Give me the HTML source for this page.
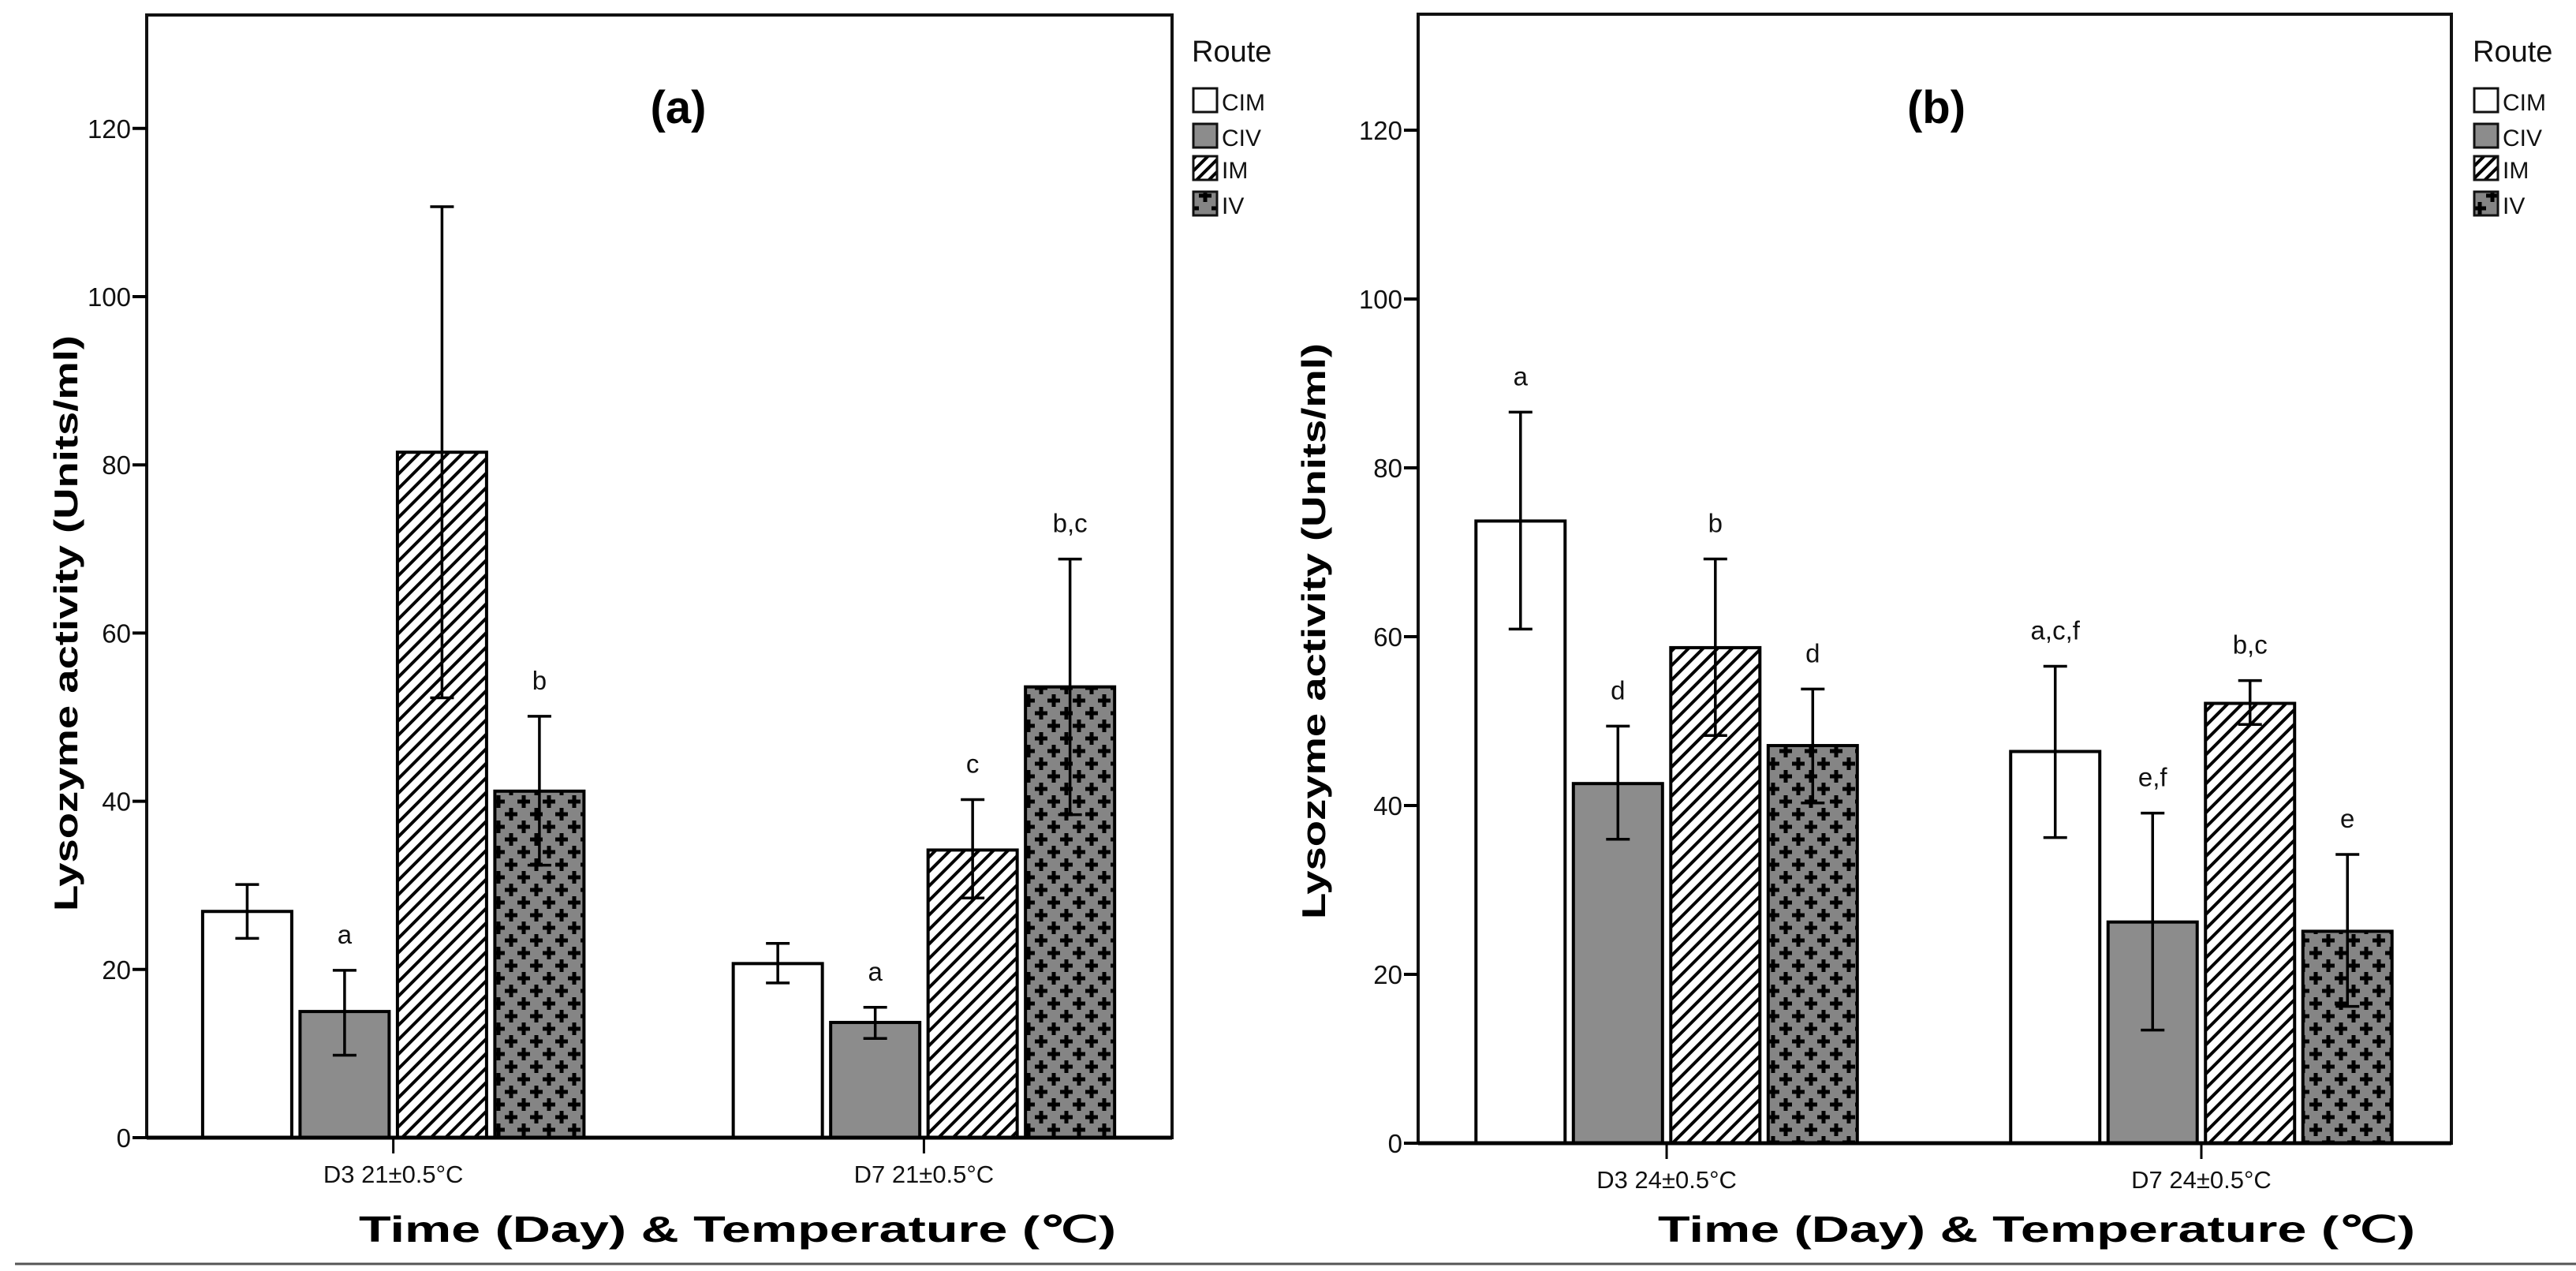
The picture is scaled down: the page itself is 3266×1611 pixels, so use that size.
<!DOCTYPE html>
<html><head><meta charset="utf-8"><style>
html,body{margin:0;padding:0;background:#fff;}
svg{display:block;font-family:"Liberation Sans",Arial,sans-serif;}
</style></head><body>
<svg id="chart" width="3266" height="1611" viewBox="0 0 3266 1611" xmlns="http://www.w3.org/2000/svg">
<defs>
<pattern id="hatch" patternUnits="userSpaceOnUse" width="13" height="13" patternTransform="rotate(45)">
<rect width="13" height="13" fill="#fff"/><rect x="0" y="0" width="4" height="13" fill="#000"/>
</pattern>
<pattern id="cross" patternUnits="userSpaceOnUse" width="32" height="32">
<rect width="32" height="32" fill="#858585"/>
<path d="M8 0v16M0 8h16M24 16v16M16 24h16" stroke="#000" stroke-width="5"/>
</pattern>
<pattern id="hatchL" patternUnits="userSpaceOnUse" width="11" height="11" patternTransform="rotate(45)">
<rect width="11" height="11" fill="#fff"/><rect x="0" y="0" width="4" height="11" fill="#000"/>
</pattern>
</defs>
<line x1="19" y1="1602" x2="3266" y2="1602" stroke="#555" stroke-width="3"/>
</svg>
<script>
// ---- data ----
const categoriesA = ["D3 21±0.5°C", "D7 21±0.5°C"];
const categoriesB = ["D3 24±0.5°C", "D7 24±0.5°C"];
const routes = ["CIM", "CIV", "IM", "IV"];
const yTicks = [0, 20, 40, 60, 80, 100, 120];
// panel a: [D3, D7]
const aCIM = [26.9, 20.7], aCIMlo = [23.7, 18.4], aCIMhi = [30.1, 23.1];
const aCIV = [15.0, 13.7], aCIVlo = [9.8, 11.8], aCIVhi = [19.9, 15.5];
const aIM  = [81.5, 34.2], aIMlo  = [52.3, 28.5], aIMhi  = [110.7, 40.2];
const aIV  = [41.2, 53.6], aIVlo  = [32.4, 38.4], aIVhi  = [50.1, 68.8];
const aLetters = [["", "a", "", "b"], ["", "a", "c", "b,c"]];
// panel b
const bCIM = [73.7, 46.4], bCIMlo = [60.9, 36.2], bCIMhi = [86.6, 56.5];
const bCIV = [42.6, 26.2], bCIVlo = [36.0, 13.4], bCIVhi = [49.4, 39.1];
const bIM  = [58.7, 52.1], bIMlo  = [48.3, 49.6], bIMhi  = [69.2, 54.8];
const bIV  = [47.1, 25.1], bIVlo  = [40.3, 16.2], bIVhi  = [53.8, 34.2];
const bLetters = [["a", "d", "b", "d"], ["a,c,f", "e,f", "b,c", "e"]];

const NS = "http://www.w3.org/2000/svg";
const svg = document.getElementById("chart");
const fills = ["#fff", "#8c8c8c", "url(#hatch)", "url(#cross)"];
const legFills = ["#fff", "#8c8c8c", "url(#hatchL)", "url(#cross)"];
function mk(tag, attrs, parent) {
  const e = document.createElementNS(NS, tag);
  for (const k in attrs) e.setAttribute(k, attrs[k]);
  (parent || svg).appendChild(e);
  return e;
}
function panel(p) {
  const g = mk("g", {});
  
  
  const x0 = p.x0, x1 = p.x1, yTop = p.yTop, y0 = p.y0, ppu = p.ppu;
  const W = x1 - x0;
  const ys = v => y0 - v * ppu;
  const cx = i => x0 + W * (0.2405 + 0.5175 * i);
  const bw = 113, step = 123.5;
  const fr = mk("rect", {x: x0, y: yTop, width: W, height: y0 - yTop, fill: "none", stroke: "#111", "stroke-width": 4}, g);
  
  
  yTicks.forEach(t => {
    const y = ys(t);
    const tl = mk("line", {x1: x0 - 18, x2: x0, y1: y, y2: y, stroke: "#000", "stroke-width": 4}, g);
    
    
    const tx = mk("text", {x: x0 - 20, y: y + 12, "text-anchor": "end", "font-size": 33, fill: "#111"}, g);
    tx.textContent = t;
    
    
  });
  const series = p.series;
  p.cats.forEach((c, i) => {
    const cxx = cx(i);
    const tk = mk("line", {x1: cxx, x2: cxx, y1: y0, y2: y0 + 20, stroke: "#000", "stroke-width": 3}, g);
    
    
    const lb = mk("text", {x: cxx, y: y0 + 57, "text-anchor": "middle", "font-size": 31, fill: "#111"}, g);
    lb.textContent = c;
    
    
    series.forEach((s, j) => {
      const bx = cxx + (j - 1.5) * step - bw / 2;
      const top = ys(s.v[i]);
      const r = mk("rect", {x: bx, y: top, width: bw, height: y0 - top, fill: fills[j], stroke: "#000", "stroke-width": 4}, g);
      
      
      const mx = bx + bw / 2, hi = ys(s.hi[i]), lo = ys(s.lo[i]);
      const eb = mk("path", {d: `M${mx} ${hi}V${lo}M${mx - 15} ${hi}h30M${mx - 15} ${lo}h30`, stroke: "#000", "stroke-width": 3.5, fill: "none"}, g);
      
      
      const L = p.letters[i][j];
      if (L) {
        const t = mk("text", {x: mx, y: hi - 34, "text-anchor": "middle", "font-size": 33, fill: "#111"}, g);
        t.textContent = L;
        
        
      }
    });
  });
  const b = mk("line", {x1: x0, x2: x1, y1: y0, y2: y0, stroke: "#000", "stroke-width": 5}, g);
  
  
  const tt = mk("text", {x: p.titleX, y: 156, "text-anchor": "middle", "font-size": 58, "font-weight": "bold", fill: "#000"}, g);
  tt.textContent = p.title;
  
  
  const yt = mk("text", {x: 0, y: 0, transform: `translate(${p.yTitleX},${p.yTitleY}) rotate(-90)`, "text-anchor": "middle", "font-size": 42, "font-weight": "bold", fill: "#000", textLength: 730, lengthAdjust: "spacingAndGlyphs"}, g);
  yt.textContent = "Lysozyme activity (Units/ml)";
  
  
  const xt = mk("text", {x: p.xTitleX, y: 1574, "text-anchor": "middle", "font-size": 46, "font-weight": "bold", fill: "#000", textLength: 960, lengthAdjust: "spacingAndGlyphs"}, g);
  xt.textContent = "Time (Day) & Temperature (℃)";
  
  
  const lg = mk("g", {}, g);
  
  
  const rt = mk("text", {x: p.legX, y: 78, "font-size": 38, fill: "#111"}, lg);
  rt.textContent = "Route";
  
  
  const rows = [112, 157, 198, 243];
  routes.forEach((rn, j) => {
    const sw = mk("rect", {x: p.legX + 2, y: rows[j], width: 30, height: 30, fill: legFills[j], stroke: "#111", "stroke-width": 3}, lg);
    
    
    const lt = mk("text", {x: p.legX + 38, y: rows[j] + 28, "font-size": 30, fill: "#111"}, lg);
    lt.textContent = rn;
    
    
  });
}
panel({name: "panel-a", x0: 186, x1: 1486, yTop: 19, y0: 1442, ppu: 10.66, cats: categoriesA,
  series: [{v: aCIM, lo: aCIMlo, hi: aCIMhi}, {v: aCIV, lo: aCIVlo, hi: aCIVhi}, {v: aIM, lo: aIMlo, hi: aIMhi}, {v: aIV, lo: aIVlo, hi: aIVhi}],
  letters: aLetters, title: "(a)", titleX: 860, yTitleX: 98, yTitleY: 790, xTitleX: 935, legX: 1511});
panel({name: "panel-b", x0: 1798, x1: 3108, yTop: 18, y0: 1449, ppu: 10.7, cats: categoriesB,
  series: [{v: bCIM, lo: bCIMlo, hi: bCIMhi}, {v: bCIV, lo: bCIVlo, hi: bCIVhi}, {v: bIM, lo: bIMlo, hi: bIMhi}, {v: bIV, lo: bIVlo, hi: bIVhi}],
  letters: bLetters, title: "(b)", titleX: 2455, yTitleX: 1680, yTitleY: 800, xTitleX: 2582, legX: 3135});
</script>
</body></html>
